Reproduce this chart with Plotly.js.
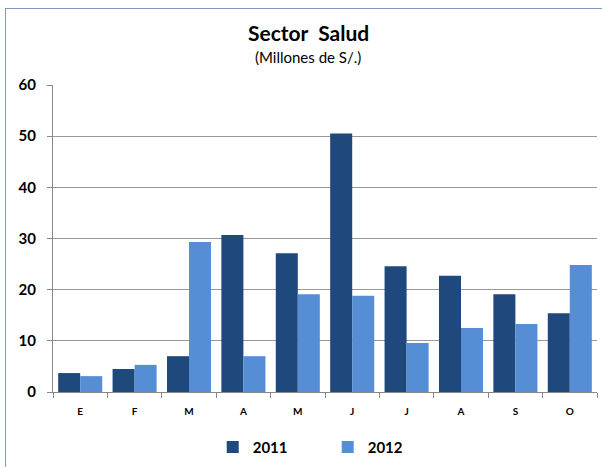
<!DOCTYPE html>
<html><head><meta charset="utf-8">
<script src="https://cdn.plot.ly/plotly-3.0.1.min.js"></script>
<style>
body{margin:0;padding:0;background:#fff;}
#chart{width:602px;height:467px;position:absolute;left:0;top:0;}
#frame{position:absolute;left:5px;top:8px;width:610px;height:470px;border:1.5px solid #7F9AC2;pointer-events:none;}
</style></head>
<body>
<div id="chart"></div>
<div id="frame"></div>
<script>
const months = ["E","F","M","A","M ","J","J ","A ","S","O"];
const monthLabels = ["E","F","M","A","M","J","J","A","S","O"];
const values2011 = [3.7, 4.5, 7.0, 30.7, 27.1, 50.5, 24.6, 22.7, 19.1, 15.4];
const values2012 = [3.1, 5.3, 29.3, 7.0, 19.1, 18.8, 9.6, 12.5, 13.3, 24.8];
const yTicks = [0,10,20,30,40,50,60];

const data = [
  {type:"bar", name:"2011", x:months, y:values2011, marker:{color:"#1F497D"}},
  {type:"bar", name:"2012", x:months, y:values2012, marker:{color:"#558ED5"}}
];
const layout = {
  width:602, height:467,
  margin:{l:53, r:5, t:85, b:75, autoexpand:false},
  paper_bgcolor:"#fff", plot_bgcolor:"#fff",
  font:{family:"Lato, 'Open Sans', sans-serif", color:"#000"},
  barmode:"group", bargap:0.19, bargroupgap:0,
  xaxis:{tickmode:"array", tickvals:months, ticktext:monthLabels,
    tickfont:{size:10, family:"Lato", weight:"bold"},
    showline:true, linecolor:"#888", linewidth:1,
    ticks:"outside", ticklen:5, tickcolor:"#888", tickson:"boundaries",
    ticklabelstandoff:10, automargin:false,
    showgrid:false},
  yaxis:{range:[0,60], tickvals:yTicks, tickfont:{size:15, family:"Lato", weight:"bold"},
    showline:true, linecolor:"#888", linewidth:1, automargin:false,
    ticks:"outside", ticklen:5, tickcolor:"#888", ticklabelstandoff:8,
    gridcolor:"#999", gridwidth:1, zeroline:false},
  showlegend:true,
  legend:{orientation:"h", x:0.505, xanchor:"center", y:-0.18, yanchor:"middle",
    font:{size:15, family:"Lato", weight:"bold"}, entrywidth:70, itemwidth:30},
  annotations:[
    {text:"<b>Sector  Salud</b>", xref:"paper", yref:"paper", x:0.469, y:1.17, xanchor:"center", yanchor:"middle", showarrow:false, font:{size:21, family:"Lato"}},
    {text:"(Millones de S/.)", xref:"paper", yref:"paper", x:0.469, y:1.09, xanchor:"center", yanchor:"middle", showarrow:false, font:{size:15, family:"Lato"}}
  ]
};
Plotly.newPlot("chart", data, layout, {displayModeBar:false, staticPlot:true});
</script>
</body></html>
